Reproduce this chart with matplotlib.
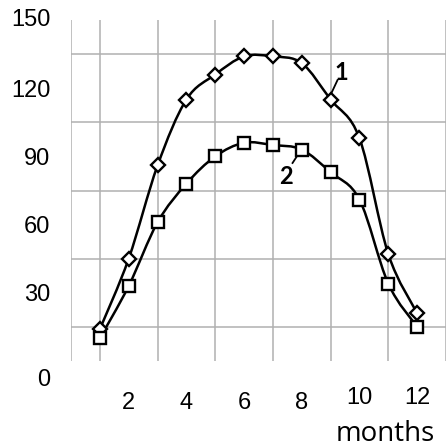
import numpy as np
import matplotlib
matplotlib.use("Agg")
import matplotlib.pyplot as plt
from matplotlib.path import Path
from matplotlib.patches import PathPatch
from matplotlib.transforms import ScaledTranslation

# values
months = [1, 2, 3, 4, 5, 6, 7, 8, 9, 10, 11, 12]
curve1 = [14, 45, 86, 115, 126, 134, 134, 131, 115, 98, 47, 21]
curve2 = [10, 33, 61, 78, 90, 96, 95, 93, 83, 71, 34, 15]
xtick_vals = [2, 4, 6, 8, 10, 12]
ytick_vals = [0, 30, 60, 90, 120, 150]


def smooth(x, y):
    # excel-like smoothed line (catmull-rom as cubic bezier segments)
    p = np.column_stack([x, y]).astype(float)
    n = len(p)
    verts = [p[0]]
    codes = [Path.MOVETO]
    for i in range(n - 1):
        p0 = p[max(i - 1, 0)]
        p1 = p[i]
        p2 = p[i + 1]
        p3 = p[min(i + 2, n - 1)]
        verts += [p1 + (p2 - p0) / 6, p2 - (p3 - p1) / 6, p2]
        codes += [Path.CURVE4] * 3
    return Path(verts, codes)


fig = plt.figure(figsize=(4.46, 4.48), dpi=100)
ax = fig.add_axes([71 / 446, 1 - 361 / 448, 375 / 446, 341 / 448])

ax.set_xlim(0, 375 / 28.9)
ax.set_ylim(0, 150)

for y in [curve1, curve2]:
    ax.add_patch(PathPatch(smooth(months, y), fill=False, edgecolor="black",
                           lw=1.8, zorder=3))
ax.plot(months, curve1, ls="none", marker="D", ms=7, mfc="white", mec="black",
        mew=1.7, zorder=4)
ax.plot(months, curve2, ls="none", marker="s", ms=9, mfc="white", mec="black",
        mew=1.7, zorder=4)

# grid
ax.set_xticks(range(0, 14), minor=True)
ax.set_yticks(np.arange(0, 151, 15), minor=True)
ax.grid(which="minor", color="#b0b0b0", lw=1.1)
ax.set_axisbelow(True)
for s in ax.spines.values():
    s.set_visible(False)

ax.set_xticks(xtick_vals)
ax.set_xticklabels([str(v) for v in xtick_vals])
ax.set_yticks(ytick_vals)
ax.set_yticklabels([str(v) for v in ytick_vals])
ax.tick_params(which="both", length=0)
ax.tick_params(axis="y", pad=15, labelsize=17)
ax.tick_params(axis="x", pad=22, labelsize=17)
for lab in ax.get_yticklabels():
    lab.set_fontfamily("Liberation Sans")
for lab in ax.get_xticklabels():
    lab.set_fontfamily("Liberation Sans")

# small nudges seen in the original
dpi_tr = fig.dpi_scale_trans
ylabs = ax.get_yticklabels()
ylabs[0].set_transform(ylabs[0].get_transform() + ScaledTranslation(0, -16 / 100, dpi_tr))
ylabs[-1].set_transform(ylabs[-1].get_transform() + ScaledTranslation(0, 3 / 100, dpi_tr))
xlabs = ax.get_xticklabels()
for lab in xlabs[-2:]:
    lab.set_transform(lab.get_transform() + ScaledTranslation(0, 5 / 100, dpi_tr))

# curve labels
ax.text(9.37, 127, "1", fontsize=17, fontweight="bold", family="Lato",
        ha="center", va="center")
ax.plot([9.03, 9.24], [117.9, 123.6], color="black", lw=1.3)
ax.text(7.44, 81, "2", fontsize=17, fontweight="bold", family="Lato",
        ha="center", va="center")
ax.plot([7.68, 8.02], [87.1, 93.7], color="black", lw=1.3)

fig.text(385 / 446, 1 - 441 / 448, "months", fontsize=20, family="Open Sans",
         ha="center", va="baseline")

fig.savefig("out.png", dpi=100)
